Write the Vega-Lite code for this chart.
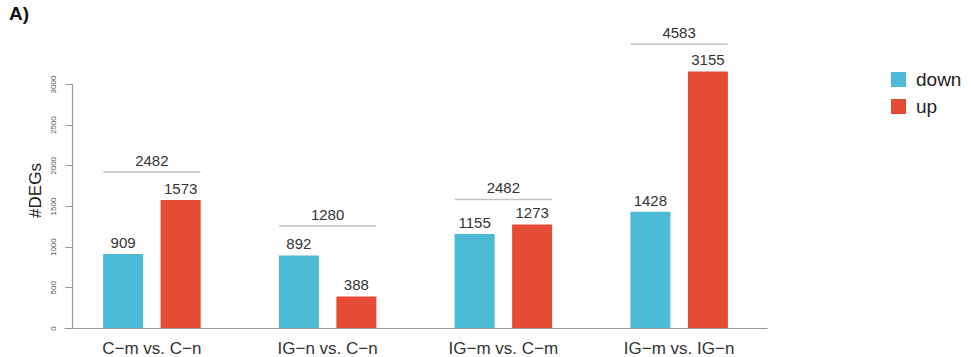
{
  "$schema": "https://vega.github.io/schema/vega-lite/v6.json",
  "autosize": {"type": "none"},
  "padding": {"left": 64, "top": 84, "right": 231, "bottom": 29},
  "width": 676,
  "height": 244,
  "title": {"text": "A)", "anchor": "start", "frame": "group", "fontSize": 19, "fontWeight": "bold", "color": "#111", "dx": -55, "offset": 2},
  "datasets": {
    "bars": [
      {"comparison": "C−m vs. C−n", "direction": "down", "count": 909},
      {"comparison": "C−m vs. C−n", "direction": "up", "count": 1573},
      {"comparison": "IG−n vs. C−n", "direction": "down", "count": 892},
      {"comparison": "IG−n vs. C−n", "direction": "up", "count": 388},
      {"comparison": "IG−m vs. C−m", "direction": "down", "count": 1155},
      {"comparison": "IG−m vs. C−m", "direction": "up", "count": 1273},
      {"comparison": "IG−m vs. IG−n", "direction": "down", "count": 1428},
      {"comparison": "IG−m vs. IG−n", "direction": "up", "count": 3155}
    ],
    "totals": [
      {"comparison": "C−m vs. C−n", "total": 2482, "bracket": 1918},
      {"comparison": "IG−n vs. C−n", "total": 1280, "bracket": 1254},
      {"comparison": "IG−m vs. C−m", "total": 2482, "bracket": 1580},
      {"comparison": "IG−m vs. IG−n", "total": 4583, "bracket": 3488}
    ]
  },
  "layer": [
    {
      "data": {"name": "bars"},
      "mark": {"type": "bar", "clip": false},
      "encoding": {
        "x": {
          "field": "comparison", "type": "nominal",
          "sort": ["C−m vs. C−n", "IG−n vs. C−n", "IG−m vs. C−m", "IG−m vs. IG−n"],
          "scale": {"range": [0, 703], "paddingInner": 0, "paddingOuter": 0},
          "axis": {"title": null, "labelAngle": 0, "ticks": false, "tickSize": 0, "labelPadding": 12, "labelFontSize": 17, "labelColor": "#333", "domainColor": "#999", "domainWidth": 1.2}
        },
        "xOffset": {
          "field": "direction", "type": "nominal",
          "scale": {"paddingInner": 0.304, "paddingOuter": 0.68}
        },
        "y": {
          "field": "count", "type": "quantitative",
          "scale": {"domain": [0, 3000], "nice": false},
          "axis": {"title": "#DEGs", "values": [0, 500, 1000, 1500, 2000, 2500, 3000], "format": "d", "grid": false, "offset": -8,
            "labelAngle": -90, "labelAlign": "center", "labelBaseline": "middle", "labelPadding": 12, "labelFontSize": 8, "labelColor": "#555",
            "tickSize": 7, "tickColor": "#999", "domainColor": "#999", "domainWidth": 1.2,
            "titleFontSize": 17, "titleFontWeight": "normal", "titleColor": "#222", "titleBaseline": "middle", "titleX": -37, "titleY": 106, "titleAngle": -90}
        },
        "color": {
          "field": "direction", "type": "nominal",
          "scale": {"domain": ["down", "up"], "range": ["#4DBBD5", "#E64B35"]},
          "legend": {"title": null, "orient": "none", "legendX": 825, "legendY": -14, "symbolType": "square", "symbolSize": 225, "symbolStrokeWidth": 0, "labelFontSize": 19, "labelColor": "#222", "labelOffset": 8, "rowPadding": 7}
        }
      }
    },
    {
      "data": {"name": "bars"},
      "mark": {"type": "text", "baseline": "alphabetic", "dy": -6, "fontSize": 15, "color": "#333", "clip": false},
      "encoding": {
        "x": {"field": "comparison", "type": "nominal", "sort": ["C−m vs. C−n", "IG−n vs. C−n", "IG−m vs. C−m", "IG−m vs. IG−n"]},
        "xOffset": {"field": "direction", "type": "nominal"},
        "y": {"field": "count", "type": "quantitative"},
        "text": {"field": "count", "type": "quantitative"}
      }
    },
    {
      "data": {"name": "totals"},
      "mark": {"type": "tick", "size": 97, "thickness": 1.5, "color": "#aaa", "clip": false},
      "encoding": {
        "x": {"field": "comparison", "type": "nominal", "sort": ["C−m vs. C−n", "IG−n vs. C−n", "IG−m vs. C−m", "IG−m vs. IG−n"]},
        "y": {"field": "bracket", "type": "quantitative"}
      }
    },
    {
      "data": {"name": "totals"},
      "mark": {"type": "text", "baseline": "alphabetic", "dy": -6, "fontSize": 15, "color": "#333", "clip": false},
      "encoding": {
        "x": {"field": "comparison", "type": "nominal", "sort": ["C−m vs. C−n", "IG−n vs. C−n", "IG−m vs. C−m", "IG−m vs. IG−n"]},
        "y": {"field": "bracket", "type": "quantitative"},
        "text": {"field": "total", "type": "quantitative"}
      }
    }
  ],
  "config": {
    "view": {"stroke": null},
    "font": "Liberation Sans"
  }
}
